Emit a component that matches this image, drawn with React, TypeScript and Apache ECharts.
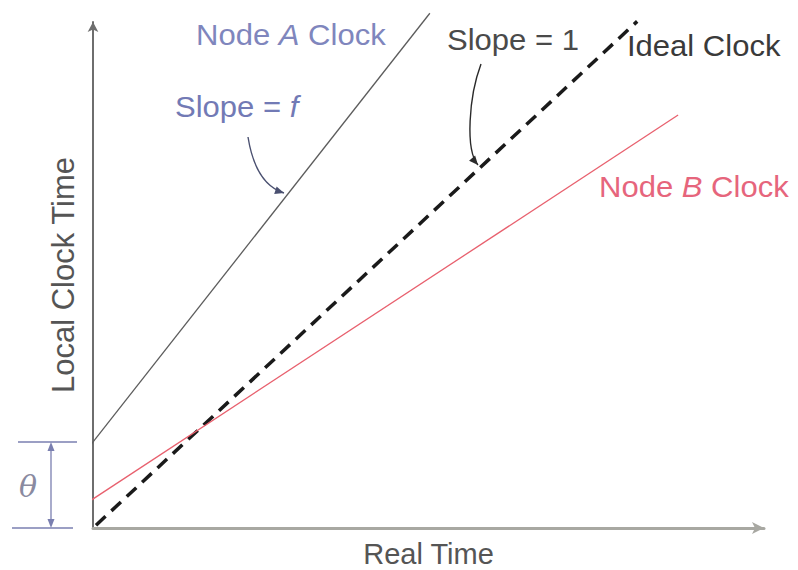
import React, { useEffect, useRef } from "react";
import * as echarts from "echarts";

// Axis extents (arbitrary time units, ideal clock has slope 1)
const realTimeRange = [0, 100];
const localTimeRange = [0, 81];

// Clock lines: [real time, local clock time]
const idealClock = [[0.45, 0.45], [81.1, 81.1]];
const nodeAClock = [[-3.7, 8.7], [50.2, 82.4]];
const nodeBClock = [[-2.2, 3.1], [87.2, 66.1]];

// Offset of node A clock at real time 0
const theta = 13.77;

const seriesNames = ["Node A Clock", "Ideal Clock", "Node B Clock"];
const axisNames = ["Real Time", "Local Clock Time"];

const FONT = "'Liberation Sans', Arial, Helvetica, sans-serif";
const FS = 29;
const SX = 1.07;

function arrowHead(tip: number[], from: number[], len: number, half: number, color: string) {
  const dx = tip[0] - from[0];
  const dy = tip[1] - from[1];
  const d = Math.hypot(dx, dy) || 1;
  const ux = dx / d, uy = dy / d;
  const bx = tip[0] - ux * len, by = tip[1] - uy * len;
  return {
    type: "polygon",
    shape: {
      points: [
        [tip[0], tip[1]],
        [bx - uy * half, by + ux * half],
        [bx + uy * half, by - ux * half],
      ],
    },
    style: { fill: color },
    silent: true,
  };
}

export default function App() {
  const ref = useRef<HTMLDivElement>(null);
  useEffect(() => {
    if (!ref.current) return;
    const chart = echarts.init(ref.current, null, { renderer: "svg" });
    chart.setOption({
      animation: false,
      backgroundColor: "#ffffff",
      grid: { left: 93, right: 34, top: 22, bottom: 42, containLabel: false, outerBoundsMode: "none" },
      xAxis: {
        type: "value",
        min: realTimeRange[0],
        max: realTimeRange[1],
        name: axisNames[0],
        nameLocation: "middle",
        nameGap: 11,
        nameTextStyle: { fontSize: 29, lineHeight: 29, color: "#555", fontFamily: FONT },
        axisLine: {
          show: true,
          symbol: ["none", "arrow"],
          symbolSize: [9, 12],
          lineStyle: { color: "#a8a8a2", width: 3 },
        },
        axisTick: { show: false },
        axisLabel: { show: false },
        splitLine: { show: false },
      },
      yAxis: {
        type: "value",
        min: localTimeRange[0],
        max: localTimeRange[1],
        name: axisNames[1],
        nameLocation: "middle",
        nameGap: 14,
        nameRotate: 90,
        nameTextStyle: { fontSize: 31, color: "#555", fontFamily: FONT },
        axisLine: {
          show: true,
          symbol: ["none", "arrow"],
          symbolSize: [8, 10],
          lineStyle: { color: "#6e6e6e", width: 2 },
        },
        axisTick: { show: false },
        axisLabel: { show: false },
        splitLine: { show: false },
      },
      series: [
        {
          name: seriesNames[0],
          type: "line",
          data: nodeAClock,
          showSymbol: false,
          clip: false,
          lineStyle: { color: "#5c5c5c", width: 1.3 },
        },
        {
          name: seriesNames[1],
          type: "line",
          data: idealClock,
          showSymbol: false,
          clip: false,
          lineStyle: { color: "#1a1a1a", width: 3.5, type: [13, 8] },
        },
        {
          name: seriesNames[2],
          type: "line",
          data: nodeBClock,
          showSymbol: false,
          clip: false,
          lineStyle: { color: "#e8606e", width: 1.3 },
        },
      ],
    });

    const p0 = chart.convertToPixel({ gridIndex: 0 }, [0, 0]) as number[];
    const pT = chart.convertToPixel({ gridIndex: 0 }, [0, theta]) as number[];
    const ax = p0[0];
    const thetaColor = "#7a7fb0";

    const textStyle = (text: string, color: string, rich?: any) => ({
      text,
      fill: color,
      fontSize: FS,
      fontFamily: FONT,
      rich,
    });
    const italic = (color: string) => ({ i: { fontStyle: "italic", fontSize: FS, fill: color, fontFamily: FONT } });

    const c1 = [[248, 137], [252, 162], [262, 186], [284, 193]];
    const c2 = [[481, 64], [469, 96], [465, 150], [478, 165]];

    chart.setOption({
      graphic: [
        // theta bracket
        { type: "line", shape: { x1: ax - 75, y1: pT[1], x2: ax - 16, y2: pT[1] }, style: { stroke: thetaColor, lineWidth: 1.3 }, silent: true },
        { type: "line", shape: { x1: ax - 81, y1: p0[1], x2: ax - 20, y2: p0[1] }, style: { stroke: thetaColor, lineWidth: 1.3 }, silent: true },
        { type: "line", shape: { x1: ax - 42, y1: pT[1] + 8, x2: ax - 42, y2: p0[1] - 8 }, style: { stroke: thetaColor, lineWidth: 1.3 }, silent: true },
        arrowHead([ax - 42, pT[1]], [ax - 42, pT[1] + 10], 9, 3.5, thetaColor),
        arrowHead([ax - 42, p0[1]], [ax - 42, p0[1] - 10], 9, 3.5, thetaColor),
        {
          type: "text",
          x: ax - 74,
          y: (pT[1] + p0[1]) / 2 + 2,
          style: { text: "θ", fill: "#8a8aa0", fontSize: 30, fontStyle: "italic", fontFamily: "'DejaVu Serif', serif", verticalAlign: "middle" },
          silent: true,
        },
        // labels
        {
          type: "text", x: 196, y: 35, scaleX: SX,
          style: { ...textStyle("Node {i|A} Clock", "#7f86bd", italic("#7f86bd")), verticalAlign: "middle" },
          silent: true,
        },
        {
          type: "text", x: 175, y: 107, scaleX: SX,
          style: { ...textStyle("Slope = {i|f}", "#727ab5", italic("#727ab5")), verticalAlign: "middle" },
          silent: true,
        },
        {
          type: "text", x: 447, y: 40, scaleX: SX,
          style: { ...textStyle("Slope = 1", "#4a4a4a"), verticalAlign: "middle" },
          silent: true,
        },
        {
          type: "text", x: 627, y: 46, scaleX: SX,
          style: { ...textStyle("Ideal Clock", "#3a3a3a"), verticalAlign: "middle" },
          silent: true,
        },
        {
          type: "text", x: 599, y: 187, scaleX: SX,
          style: { ...textStyle("Node {i|B} Clock", "#e6657c", italic("#e6657c")), verticalAlign: "middle" },
          silent: true,
        },
        // curved pointers
        {
          type: "bezierCurve",
          shape: { x1: c1[0][0], y1: c1[0][1], cpx1: c1[1][0], cpy1: c1[1][1], cpx2: c1[2][0], cpy2: c1[2][1], x2: c1[3][0], y2: c1[3][1] },
          style: { stroke: "#4a5070", lineWidth: 1.4, fill: "none" },
          silent: true,
        },
        arrowHead(c1[3], c1[2], 9, 4, "#4a5070"),
        {
          type: "bezierCurve",
          shape: { x1: c2[0][0], y1: c2[0][1], cpx1: c2[1][0], cpy1: c2[1][1], cpx2: c2[2][0], cpy2: c2[2][1], x2: c2[3][0], y2: c2[3][1] },
          style: { stroke: "#2a2a2a", lineWidth: 1.4, fill: "none" },
          silent: true,
        },
        arrowHead(c2[3], c2[2], 9, 4, "#2a2a2a"),
      ],
    });

    return () => chart.dispose();
  }, []);
  return (
    <div
      ref={ref}
      style={{ position: "fixed", left: 0, top: 0, width: 798, height: 570, background: "#fff" }}
    />
  );
}
